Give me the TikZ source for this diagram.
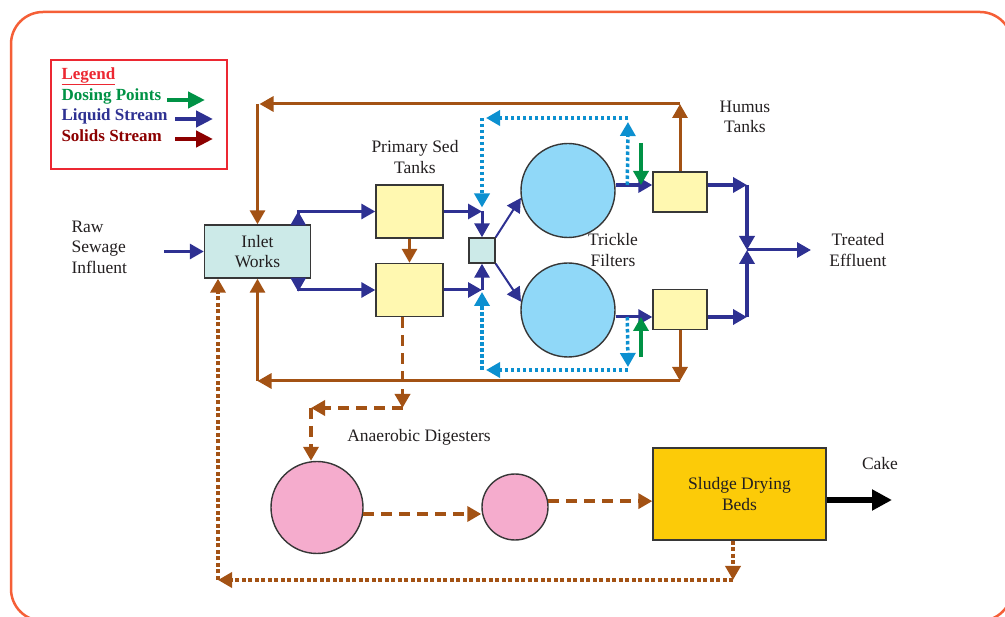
\documentclass[tikz,border=0pt]{standalone}
\usepackage{fontspec}
\setmainfont{Liberation Serif}
\usetikzlibrary{arrows.meta,calc}

\definecolor{liqblue}{RGB}{46,49,146}
\definecolor{sludgebrown}{RGB}{163,82,20}
\definecolor{recblue}{RGB}{12,144,208}
\definecolor{dosegreen}{RGB}{0,146,69}
\definecolor{solred}{RGB}{140,0,0}
\definecolor{legred}{RGB}{236,40,50}
\definecolor{framered}{RGB}{245,95,55}
\definecolor{tankyellow}{RGB}{255,248,176}
\definecolor{inletcyan}{RGB}{204,234,232}
\definecolor{filterblue}{RGB}{144,216,248}
\definecolor{digpink}{RGB}{245,172,205}
\definecolor{bedgold}{RGB}{252,203,8}
\definecolor{txtgray}{RGB}{35,31,32}
\definecolor{edgegray}{RGB}{55,55,55}

\begin{document}
\begin{tikzpicture}[x=1pt,y=-1pt,
  font=\fontsize{17.5}{20.5}\selectfont, text=txtgray,
  >={Triangle[length=14pt,width=15pt]},
  unit/.style={draw=edgegray, line width=1.4pt, inner sep=0pt, align=center},
  tank/.style={unit, fill=tankyellow, minimum width=67pt, minimum height=53pt},
  humus/.style={unit, fill=tankyellow, minimum width=54pt, minimum height=40pt},
  filter/.style={unit, circle, fill=filterblue, minimum size=94pt},
  digester/.style={unit, circle, fill=digpink},
  liquid/.style={draw=liqblue, line width=3pt, ->},
  liqthin/.style={draw=liqblue, line width=2pt, ->},
  sludge/.style={draw=sludgebrown, line width=3pt, ->},
  recyc/.style={draw=recblue, line width=3.5pt, dash pattern=on 3.5pt off 2.5pt, ->},
  dose/.style={draw=dosegreen, line width=4pt, ->},
  dashsl/.style={draw=sludgebrown, line width=3.5pt, dash pattern=on 11pt off 7pt, ->},
  dotsl/.style={draw=sludgebrown, line width=3.5pt, dash pattern=on 4pt off 2.5pt, ->},
  legarrow/.style={line width=4.5pt, -{Triangle[length=17pt,width=16pt]}},
  legtext/.style={anchor=west, font=\fontsize{17}{20}\selectfont\bfseries}]

\useasboundingbox (0,0) rectangle (1005,617);
\clip (0,0) rectangle (1005,617);
\draw[framered, line width=2.5pt, rounded corners=32pt] (11,12) rectangle (1012,621);

% legend
\node[draw=legred, line width=1.3pt, minimum width=176pt, minimum height=109pt] (legend) at (139,114.5) {};
\node[legtext, text=legred] (legtitle) at (58,76) {\underline{Legend}};
\node[legtext, text=dosegreen] (legdose) at (58,96) {Dosing Points};
\node[legtext, text=liqblue] (legliq) at (58,116) {Liquid Stream};
\node[legtext, text=solred] (legsol) at (58,136) {Solids Stream};
\draw[legarrow, dosegreen] (167,100) -- (205,100);
\draw[legarrow, liqblue] (175,119) -- (213,119);
\draw[legarrow, solred] (175,139) -- (213,139);

% units
\node[unit, fill=inletcyan, minimum width=106pt, minimum height=53pt] (inlet) at (257.5,251.5) {Inlet\\Works};
\node[tank] (pst1) at (409.5,211.5) {};
\node[tank] (pst2) at (409.5,290) {};
\node[unit, fill=inletcyan, minimum width=26pt, minimum height=25pt] (dist) at (482,250.5) {};
\node[filter] (tf1) at (568,190.5) {};
\node[filter] (tf2) at (568,310) {};
\node[humus] (hum1) at (680,192) {};
\node[humus] (hum2) at (680,309.5) {};
\node[digester, minimum size=92pt] (ad1) at (317,507.5) {};
\node[digester, minimum size=66pt] (ad2) at (515,507) {};
\node[unit, fill=bedgold, minimum width=173pt, minimum height=92pt] (beds) at (739.5,494) {Sludge Drying\\Beds};

% labels
\node[align=left, anchor=west] (rawlab) at (68,247) {Raw\\Sewage\\Influent};
\node[align=center] (pstlab) at (415,157) {Primary Sed\\Tanks};
\node[align=center] (tflab) at (613,250) {Trickle\\Filters};
\node[align=center] (humlab) at (745,117) {Humus\\Tanks};
\node[align=center] (efflab) at (858,250) {Treated\\Effluent};
\node (adlab) at (419,437) {Anaerobic Digesters};
\node (cakelab) at (880,464) {Cake};

% points
\coordinate (rawin) at (164,251.5);
\coordinate (iwtop) at ($(inlet.north east)+(-13,0)$);
\coordinate (iwbot) at ($(inlet.south east)+(-13,0)$);
\coordinate (h1in) at ($(hum1.west)+(0,-7)$);
\coordinate (h2in) at ($(hum2.west)+(0,7.5)$);
\coordinate (h1out) at ($(hum1.east)+(0,-7)$);
\coordinate (h2out) at ($(hum2.east)+(0,7.5)$);
\coordinate (mj) at (747,250);
\coordinate (eff) at (811,250);
\coordinate (rc1) at ($(h1in)+(-25,0)$);
\coordinate (rc2) at ($(h2in)+(-25,0)$);
\coordinate (rtop) at (628,118);
\coordinate (rbot) at (628,370);
\coordinate (solTop) at (680,104);
\coordinate (solBot) at (680,381);
\coordinate (pdrop) at ($(pst2.south)+(-7,0)$);
\coordinate (dg1) at (311,408);
\coordinate (bedsout) at ($(beds.east)+(0,6)$);
\coordinate (cakeend) at (892,500);
\coordinate (bdrop) at ($(beds.south)+(-6.5,0)$);
\coordinate (dotL) at (218,580);
\coordinate (dose1) at (641,143);
\coordinate (dose2) at (641,357);

% liquid stream
\draw[liquid] (rawin) -- (inlet.west);
\draw[liquid] (iwtop) |- (pst1.west);
\draw[liquid] (iwtop) -- ++(0,-13);
\draw[liquid] (iwbot) |- (pst2.west);
\draw[liquid] (iwbot) -- ++(0,13);
\draw[liquid] (pst1.east) -- (pst1.east -| dist.north);
\draw[liquid] (pst1.east -| dist.north) -- (dist.north);
\draw[liquid] (pst2.east) -- (pst2.east -| dist.south);
\draw[liquid] (pst2.east -| dist.south) -- (dist.south);
\draw[liqthin] (dist.north east) -- (tf1.189);
\draw[liqthin] (dist.south east) -- (tf2.170);
\draw[liquid, line width=4pt] (tf1.east |- h1in) -- (h1in);
\draw[liquid] (tf2.east |- h2in) -- (h2in);
\draw[liquid, line width=4pt] (h1out) -- (h1out -| mj);
\draw[liquid, line width=4pt] (h1out -| mj) -- (mj);
\draw[liquid, line width=4pt] (h2out) -- (h2out -| mj);
\draw[liquid, line width=4pt] (h2out -| mj) -- (mj);
\draw[liquid] (mj) -- (eff);

% recirculation
\draw[recyc] (rc1) -- ($(rtop)+(0,4)$);
\draw[recyc] (rtop) -- ($(rtop -| dist.north)+(4,0)$);
\draw[recyc] (rtop -| dist.north) -- ($(pst1.east -| dist.north)+(0,-4)$);
\draw[recyc] (rc2) -- ($(rbot)+(0,-3)$);
\draw[recyc] (rbot) -- ($(rbot -| dist.south)+(4,0)$);
\draw[recyc] (rbot -| dist.south) -- ($(pst2.east -| dist.south)+(0,2)$);

% dosing
\draw[dose] (dose1) -- (dose1 |- h1in);
\draw[dose] (dose2) -- (dose2 |- h2in);

% solids stream
\draw[sludge] (pst1.south) -- (pst2.north);
\draw[sludge] (hum1.north) -- (hum1.north |- solTop);
\draw[sludge] (hum1.north |- solTop) -- ($(inlet.north |- solTop)+(2,0)$);
\draw[sludge] (inlet.north |- solTop) -- (inlet.north);
\draw[sludge] (hum2.south) -- (hum2.south |- solBot);
\draw[sludge] (hum2.south |- solBot) -- (inlet.north |- solBot);
\draw[sludge] (inlet.north |- solBot) -- (inlet.south);
\draw[dashsl] (pdrop) -- (pdrop |- dg1);
\draw[dashsl] (pdrop |- dg1) -- (dg1);
\draw[dashsl] (dg1) -- (dg1 |- ad1.north);
\draw[dashsl] (ad1.-8) -- (ad1.-8 -| ad2.west);
\draw[dashsl] (ad2.10) -- (ad2.10 -| beds.west);
\draw[black, line width=6pt, -{Triangle[length=20pt,width=20pt]}] (bedsout) -- (cakeend);
\draw[dotsl] (bdrop) -- (bdrop |- dotL);
\draw[dotsl] (bdrop |- dotL) -- (dotL);
\draw[dotsl] (dotL) -- (dotL |- inlet.south);
\end{tikzpicture}
\end{document}
